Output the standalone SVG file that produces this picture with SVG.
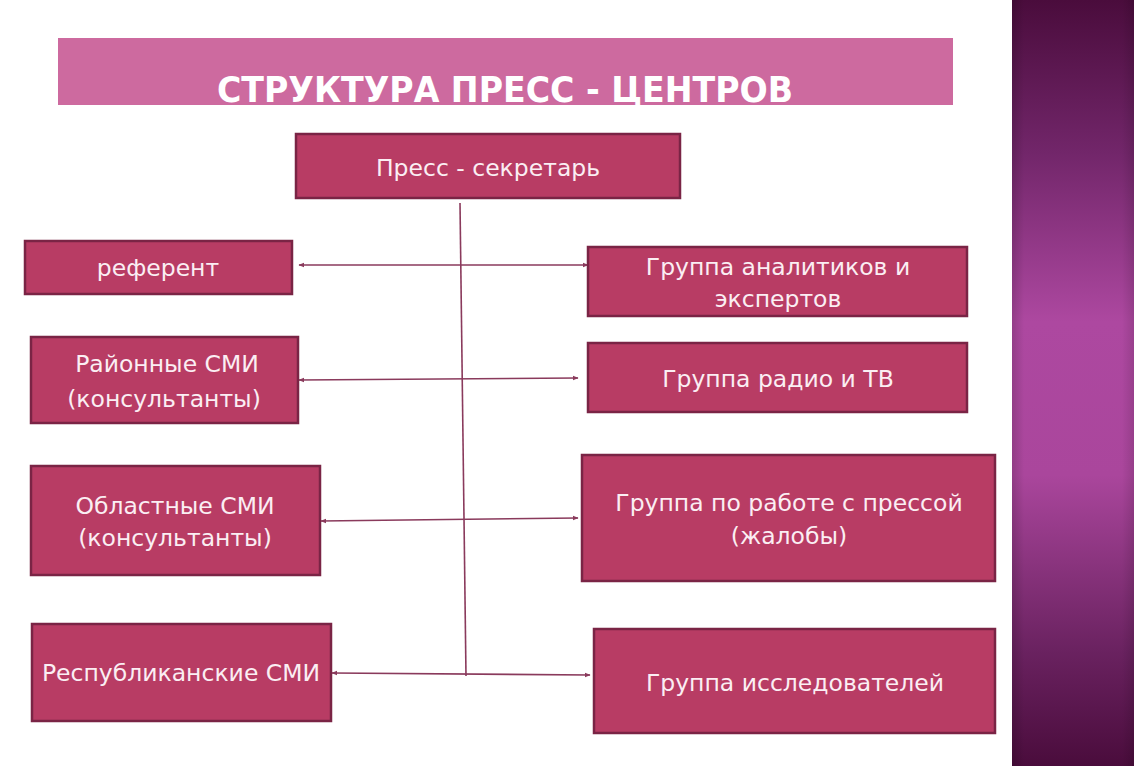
<svg xmlns="http://www.w3.org/2000/svg" width="1134" height="766" viewBox="0 0 1134 766">
<defs>
<linearGradient id="band" x1="0" y1="0" x2="0" y2="1">
<stop offset="0" stop-color="#4a0c3c"/>
<stop offset="0.2" stop-color="#72266a"/>
<stop offset="0.42" stop-color="#ad48a0"/>
<stop offset="0.62" stop-color="#aa469c"/>
<stop offset="0.85" stop-color="#6a2260"/>
<stop offset="1" stop-color="#4a0c3c"/>
</linearGradient>
<linearGradient id="bandEdge" x1="0" y1="0" x2="1" y2="0">
<stop offset="0" stop-color="#000" stop-opacity="0.15"/>
<stop offset="0.1" stop-color="#000" stop-opacity="0"/>
<stop offset="0.9" stop-color="#000" stop-opacity="0"/>
<stop offset="1" stop-color="#000" stop-opacity="0.12"/>
</linearGradient>
<marker id="arr" viewBox="0 0 10 10" refX="9" refY="5" markerWidth="6" markerHeight="6" orient="auto-start-reverse" markerUnits="userSpaceOnUse">
<path d="M0,1 L10,5 L0,9 z" fill="#8a3a5c"/>
</marker>
</defs>
<style>
.box{fill:#b83c64;stroke:#7a2445;stroke-width:2.5}
.t{font-family:"DejaVu Sans","Liberation Sans",sans-serif;font-size:23.5px;fill:#fbeef3;text-anchor:middle}
.ttl{font-family:"DejaVu Sans Condensed","DejaVu Sans",sans-serif;font-weight:bold;font-size:36px;fill:#ffffff;text-anchor:middle}
.c{fill:none;stroke:#8a3a5c;stroke-width:1.6}
</style>
<rect width="1134" height="766" fill="#ffffff"/>
<g id="band-deco">
<rect x="1012" y="0" width="122" height="766" fill="url(#band)"/>
<rect x="1012" y="0" width="122" height="766" fill="url(#bandEdge)"/>
</g>
<g id="title">
<rect x="58" y="38" width="895" height="67" fill="#cd6a9f"/>
<text class="ttl" x="505" y="102" textLength="576" lengthAdjust="spacingAndGlyphs">СТРУКТУРА ПРЕСС - ЦЕНТРОВ</text>
</g>
<g id="connectors">
<path class="c" d="M460,203 L466,676"/>
<path class="c" d="M299,265 L588,265" marker-start="url(#arr)" marker-end="url(#arr)"/>
<path class="c" d="M299,380 L578,378" marker-start="url(#arr)" marker-end="url(#arr)"/>
<path class="c" d="M321,521 L578,518" marker-start="url(#arr)" marker-end="url(#arr)"/>
<path class="c" d="M332,673 L590,675" marker-start="url(#arr)" marker-end="url(#arr)"/>
</g>
<g id="press-secretary">
<rect class="box" x="296" y="134" width="384" height="64"/>
<text class="t" x="488" y="176">Пресс - секретарь</text>
</g>
<g id="referent">
<rect class="box" x="25" y="241" width="267" height="53"/>
<text class="t" x="158" y="276">референт</text>
</g>
<g id="district-media">
<rect class="box" x="31" y="337" width="267" height="86"/>
<text class="t" x="167" y="372">Районные СМИ</text>
<text class="t" x="164" y="407">(консультанты)</text>
</g>
<g id="regional-media">
<rect class="box" x="31" y="466" width="289" height="109"/>
<text class="t" x="175" y="514">Областные СМИ</text>
<text class="t" x="175" y="546">(консультанты)</text>
</g>
<g id="republic-media">
<rect class="box" x="32" y="624" width="299" height="97"/>
<text class="t" x="181" y="681">Республиканские СМИ</text>
</g>
<g id="analysts">
<rect class="box" x="588" y="247" width="379" height="69"/>
<text class="t" x="778" y="275">Группа аналитиков и</text>
<text class="t" x="778" y="307">экспертов</text>
</g>
<g id="radio-tv">
<rect class="box" x="588" y="343" width="379" height="69"/>
<text class="t" x="778" y="387">Группа радио и ТВ</text>
</g>
<g id="press-group">
<rect class="box" x="582" y="455" width="413" height="126"/>
<text class="t" x="789" y="511">Группа по работе с прессой</text>
<text class="t" x="789" y="544">(жалобы)</text>
</g>
<g id="researchers">
<rect class="box" x="594" y="629" width="401" height="104"/>
<text class="t" x="795" y="691">Группа исследователей</text>
</g>
</svg>
